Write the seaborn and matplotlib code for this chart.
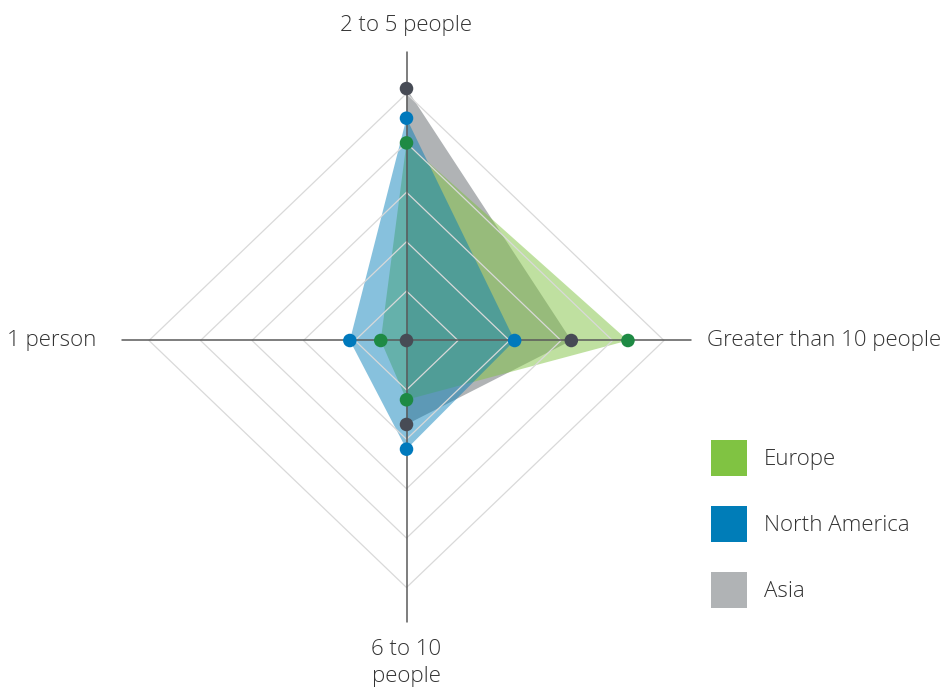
import numpy as np
import pandas as pd
import matplotlib.pyplot as plt
import seaborn as sns
from matplotlib.patches import Patch

sns.set_style("white")
plt.rcParams['font.family'] = ['Open Sans', 'DejaVu Sans']

# share of teams by size (percent), clockwise from the top axis
categories = ["2 to 5 people", "Greater than 10 people", "6 to 10\npeople", "1 person"]
regions = ["Europe", "North America", "Asia"]
europe = [40, 43, 12, 5]
north_america = [45, 21, 22, 11]
asia = [51, 32, 17, 0]
ring_levels = [10, 20, 30, 40, 50]

legend_colors = {"Europe": "#80C342", "North America": "#007DB8", "Asia": "#B0B3B5"}
dot_colors = {"Europe": "#1E8A44", "North America": "#0079BC", "Asia": "#474B55"}
fill_alpha = {"Europe": 0.5, "North America": 0.47, "Asia": 1.0}
text_color = "#333333"

values = {"Europe": europe, "North America": north_america, "Asia": asia}
angles = np.deg2rad(np.arange(len(categories)) * 360 / len(categories))

rows = []
for reg in regions:
    for cat, ang, v in zip(categories, angles, values[reg]):
        rows.append({"region": reg, "category": cat, "value": v,
                     "x": v * np.sin(ang), "y": v * np.cos(ang)})
df = pd.DataFrame(rows)

fig = plt.figure(figsize=(9.42, 6.9), dpi=100)
ax = fig.add_axes([0, 0, 1, 1])
# slightly squashed vertically, like the original
ax.set_xlim(-406.5 / 5.15, (942 - 406.5) / 5.15)
ax.set_ylim(-(690 - 340.5) / 4.94, 340.5 / 4.94)
ax.axis("off")

# rings
closed = np.append(angles, angles[0])
for lvl in ring_levels:
    ax.plot(lvl * np.sin(closed), lvl * np.cos(closed), color="#d9d9d9", lw=0.9, zorder=3)

# axis spokes
ax.plot([0, 0], [-57, 58.5], color="#5a5a5a", lw=1.1, zorder=4)
ax.plot([-55.3, 55.3], [0, 0], color="#5a5a5a", lw=1.1, zorder=4)

# filled areas: Asia underneath, then Europe, then North America
for z, reg in enumerate(["Asia", "Europe", "North America"]):
    sub = df[df.region == reg]
    ax.fill(sub.x, sub.y, color=legend_colors[reg], alpha=fill_alpha[reg], lw=0, zorder=1 + z * 0.1)

sns.scatterplot(data=df, x="x", y="y", hue="region", palette=dot_colors, s=95,
                edgecolor="none", legend=False, zorder=5, ax=ax)

# category labels
ax.text(0, 63.7, categories[0], ha="center", va="center", fontsize=16,
        fontweight="light", color=text_color)
ax.text(58.3, 0, categories[1], ha="left", va="center", fontsize=16,
        fontweight="light", color=text_color)
ax.text(0, -60.4, categories[2], ha="center", va="top", fontsize=16,
        fontweight="light", color=text_color, linespacing=1.38)
ax.text(-60.3, 0, categories[3], ha="right", va="center", fontsize=16,
        fontweight="light", color=text_color)

handles = [Patch(facecolor=legend_colors[r], edgecolor="none", label=r) for r in regions]
leg = fig.legend(handles=handles, loc="upper left", bbox_to_anchor=(711 / 942, 1 - 440 / 690),
                 frameon=False, fontsize=16, handlelength=1.62, handleheight=2.115,
                 handletextpad=0.75, labelspacing=1.355, borderpad=0, borderaxespad=0)
for t in leg.get_texts():
    t.set_color(text_color)
    t.set_fontweight("light")

fig.savefig("out.png", dpi=100)
